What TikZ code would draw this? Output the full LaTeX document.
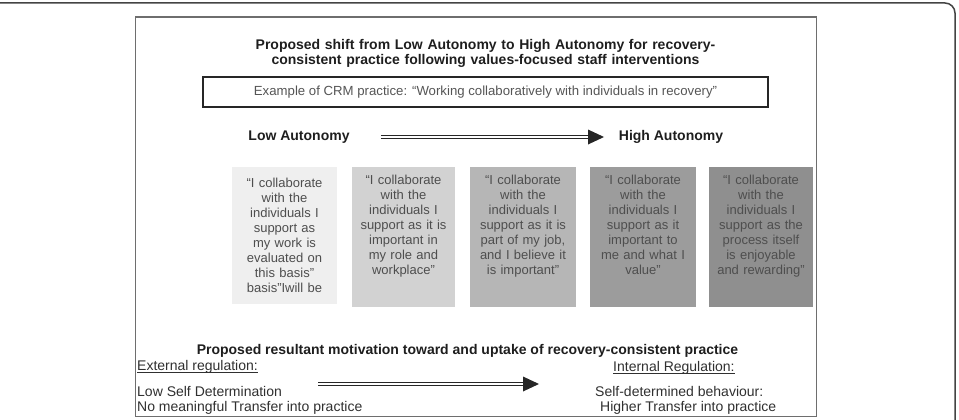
\documentclass[tikz,border=0pt]{standalone}
\usepackage{fontspec}
\setmainfont{Liberation Sans}
\definecolor{outerc}{HTML}{444444}
\definecolor{innerc}{HTML}{6E6E6E}
\definecolor{headtxt}{HTML}{1E1E1E}
\definecolor{boxtxt}{HTML}{4E4E4E}
\definecolor{exttxt}{HTML}{555555}
\definecolor{bottxt}{HTML}{303030}
\definecolor{arrowc}{HTML}{262626}
\definecolor{sa}{HTML}{EFEFEF}
\definecolor{sb}{HTML}{D2D2D2}
\definecolor{sc}{HTML}{B6B6B6}
\definecolor{sd}{HTML}{9C9C9C}
\definecolor{se}{HTML}{8F8F8F}
\begin{document}
\begin{tikzpicture}[x=1pt,y=-1pt,
  stagebox/.style={draw=none, inner sep=0pt, anchor=north west, minimum height=140pt},
  stagetext/.style={font=\fontsize{13}{15}\selectfont, text=boxtxt, align=center, text width=104pt, inner sep=0pt, anchor=base},
  heading/.style={font=\bfseries\fontsize{14}{15}\selectfont, text=headtxt, align=center, inner sep=0pt, anchor=base},
  plaintext/.style={font=\fontsize{14}{16}\selectfont, text=bottxt, inner sep=0pt, anchor=base west},
  dblline/.style={draw=arrowc, double=white, double distance=1.6pt, line width=1.6pt},
  headtip/.style={fill=arrowc},
]
\useasboundingbox (0,0) rectangle (959,420);
% outer frame
\draw[outerc, line width=1.5pt, rounded corners=10pt] (0,3) -- (955,3) -- (955,425);
% inner frame
\node[draw=innerc, line width=1.5pt, inner sep=0pt, minimum width=681pt, minimum height=399pt, anchor=north west] (frame) at (134.5,16.5) {};
% title
\node[heading, text width=480pt] (title) at (485.5,49.3) {Proposed shift from Low Autonomy to High Autonomy for recovery-\\consistent practice following values-focused staff interventions};
% example box
\node[draw=arrowc, line width=1.4pt, minimum width=565pt, minimum height=30pt, inner sep=0pt, font=\fontsize{13.2}{15}\selectfont, text=exttxt] (example) at (485.5,92) {Example of CRM practice: \char"201CWorking collaboratively with individuals in recovery\char"201D};
% autonomy labels
\node[heading] (low) at (299,140) {Low Autonomy};
\node[heading] (high) at (671,140) {High Autonomy};
\coordinate (a1s) at (381,137);
\coordinate (a1e) at (590,137);
\coordinate (a1t) at (604,137);
\draw[dblline] (a1s) -- (a1e);
\fill[headtip] (a1t) -- ++(-16,-7.5) -- ++(0,15) -- cycle;
% stage boxes
\node[stagebox, fill=sa, minimum width=105pt, minimum height=137pt] (b1) at (232,167) {};
\node[stagebox, fill=sb, minimum width=103pt] (b2) at (352,167) {};
\node[stagebox, fill=sc, minimum width=106pt] (b3) at (470,167) {};
\node[stagebox, fill=sd, minimum width=106pt] (b4) at (590,167) {};
\node[stagebox, fill=se, minimum width=104pt] (b5) at (709,167) {};
\node[stagetext] (t1) at (284.5,187.3) {\char"201CI collaborate\\with the\\individuals I\\support as\\my work is\\evaluated on\\this basis\char"201D\\basis\char"201DIwill be};
\node[stagetext] (t2) at (403.5,184) {\char"201CI collaborate\\with the\\individuals I\\support as it is\\important in\\my role and\\workplace\char"201D};
\node[stagetext] (t3) at (523,184) {\char"201CI collaborate\\with the\\individuals I\\support as it is\\part of my job,\\and I believe it\\is important\char"201D};
\node[stagetext] (t4) at (643,184) {\char"201CI collaborate\\with the\\individuals I\\support as it\\important to\\me and what I\\value\char"201D};
\node[stagetext] (t5) at (761,184) {\char"201CI collaborate\\with the\\individuals I\\support as the\\process itself\\is enjoyable\\and rewarding\char"201D};
% bottom
\node[heading] (bottitle) at (467.5,354) {Proposed resultant motivation toward and uptake of recovery-consistent practice};
\node[plaintext] (ext) at (137,370) {External regulation:};
\draw[bottxt, line width=0.7pt] ([yshift=-2.5pt]ext.base west) -- ([yshift=-2.5pt]ext.base east);
\node[plaintext] (lowsd) at (137,396) {Low Self Determination};
\node[plaintext] (nomt) at (137,411.7) {No meaningful Transfer into practice};
\node[plaintext] (int) at (613,371) {Internal Regulation:};
\draw[bottxt, line width=0.7pt] ([yshift=-2.5pt]int.base west) -- ([yshift=-2.5pt]int.base east);
\node[plaintext] (sdb) at (595,396) {Self-determined behaviour:};
\node[plaintext] (hti) at (600,411) {Higher Transfer into practice};
\coordinate (a2s) at (318,384);
\coordinate (a2e) at (524,384);
\coordinate (a2t) at (539,384);
\draw[dblline] (a2s) -- (a2e);
\fill[headtip] (a2t) -- ++(-16,-7.5) -- ++(0,15) -- cycle;
\end{tikzpicture}
\end{document}
